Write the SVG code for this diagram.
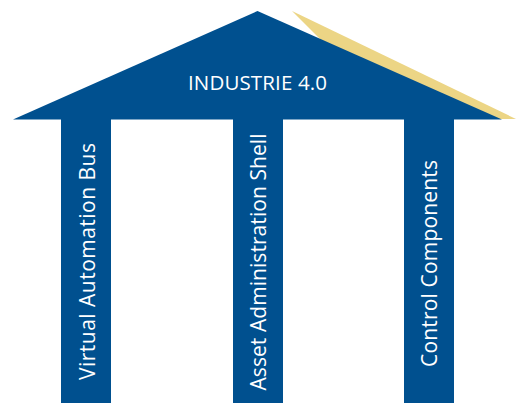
<svg xmlns="http://www.w3.org/2000/svg" width="516" height="403" viewBox="0 0 516 403">
  <style>
    .blue { fill: #00508f; }
    .gold { fill: #ecd585; }
    .label { fill: #ffffff; font-family: "Open Sans", "Noto Sans", sans-serif; }
    .roof-label { font-size: 20.5px; }
    .pillar-label { font-size: 21px; }
  </style>
  <rect width="516" height="403" fill="#ffffff"/>
  <g id="roof">
    <polygon class="gold" points="292,11 516,119 400,119"/>
    <polygon class="blue" points="257.5,11 502,119.5 13,119.5"/>
    <text class="label roof-label" x="257.5" y="90" text-anchor="middle" textLength="139" lengthAdjust="spacing">INDUSTRIE 4.0</text>
  </g>
  <g id="pillar-bus">
    <rect class="blue" x="61" y="119" width="50" height="284"/>
    <text class="label pillar-label" transform="translate(94.5,261.5) rotate(-90)" text-anchor="middle" textLength="237" lengthAdjust="spacing">Virtual Automation Bus</text>
  </g>
  <g id="pillar-shell">
    <rect class="blue" x="233" y="119" width="50" height="284"/>
    <text class="label pillar-label" transform="translate(266.3,262) rotate(-90)" text-anchor="middle" textLength="257" lengthAdjust="spacing">Asset Administration Shell</text>
  </g>
  <g id="pillar-control">
    <rect class="blue" x="404" y="119" width="50" height="284"/>
    <text class="label pillar-label" transform="translate(436.8,263.5) rotate(-90)" text-anchor="middle" textLength="207" lengthAdjust="spacing">Control Components</text>
  </g>
  <g id="connectors"/>
</svg>
